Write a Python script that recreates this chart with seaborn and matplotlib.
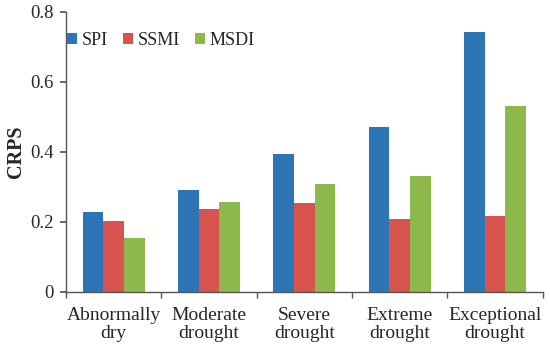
import matplotlib
matplotlib.use("Agg")
import matplotlib.pyplot as plt
import seaborn as sns
import pandas as pd
import numpy as np

categories = ["Abnormally\ndry", "Moderate\ndrought", "Severe\ndrought", "Extreme\ndrought", "Exceptional\ndrought"]
spi = [0.228, 0.291, 0.394, 0.472, 0.742]
ssmi = [0.203, 0.236, 0.255, 0.209, 0.218]
msdi = [0.153, 0.256, 0.308, 0.330, 0.532]
series = ["SPI", "SSMI", "MSDI"]
colors = ["#2E75B6", "#D9534F", "#8CB84C"]
yticks = [0, 0.2, 0.4, 0.6, 0.8]
ytick_labels = ["0", "0.2", "0.4", "0.6", "0.8"]

rows = []
for name, vals in zip(series, [spi, ssmi, msdi]):
    for c, v in zip(categories, vals):
        rows.append({"cat": c, "series": name, "val": v})
df = pd.DataFrame(rows)

sns.set_theme(style="white")
plt.rcParams["font.family"] = ["Liberation Serif", "DejaVu Serif"]

fig = plt.figure(figsize=(5.5, 3.5), dpi=100)
ax = fig.add_axes([0.12, 0.166, 0.867, 0.80])
sns.barplot(data=df, x="cat", y="val", hue="series", palette=colors,
            width=0.65, gap=0, ax=ax, saturation=1, linewidth=0, errorbar=None)

ax.set_ylim(0, 0.8)
ax.set_xlim(-0.5, 4.5)
ax.set_yticks(yticks)
ax.set_yticklabels(ytick_labels, fontsize=13.5)
ax.set_xticks(range(len(categories)))
ax.set_xticklabels(categories, fontsize=14, linespacing=1.1)
ax.set_xticks(np.arange(-0.5, 5, 1.0), minor=True)
ax.tick_params(axis="x", which="major", length=0, pad=11)
ax.tick_params(axis="x", which="minor", length=4, direction="out", color="#555555", bottom=True)
ax.tick_params(axis="y", length=4, direction="out", color="#555555", left=True, pad=5)
ax.set_xlabel("")
ax.set_ylabel("CRPS", fontsize=14.5, fontweight="bold", labelpad=3)
for s in ["top", "right"]:
    ax.spines[s].set_visible(False)
for s in ["left", "bottom"]:
    ax.spines[s].set_color("#555555")
    ax.spines[s].set_linewidth(1.0)

leg = ax.legend(loc="upper left", bbox_to_anchor=(-0.02, 0.968), ncol=3, frameon=False,
                fontsize=13, handlelength=0.55, handleheight=0.55, handletextpad=0.25,
                columnspacing=0.85, borderaxespad=0.2)

fig.savefig("out.png", dpi=100)
